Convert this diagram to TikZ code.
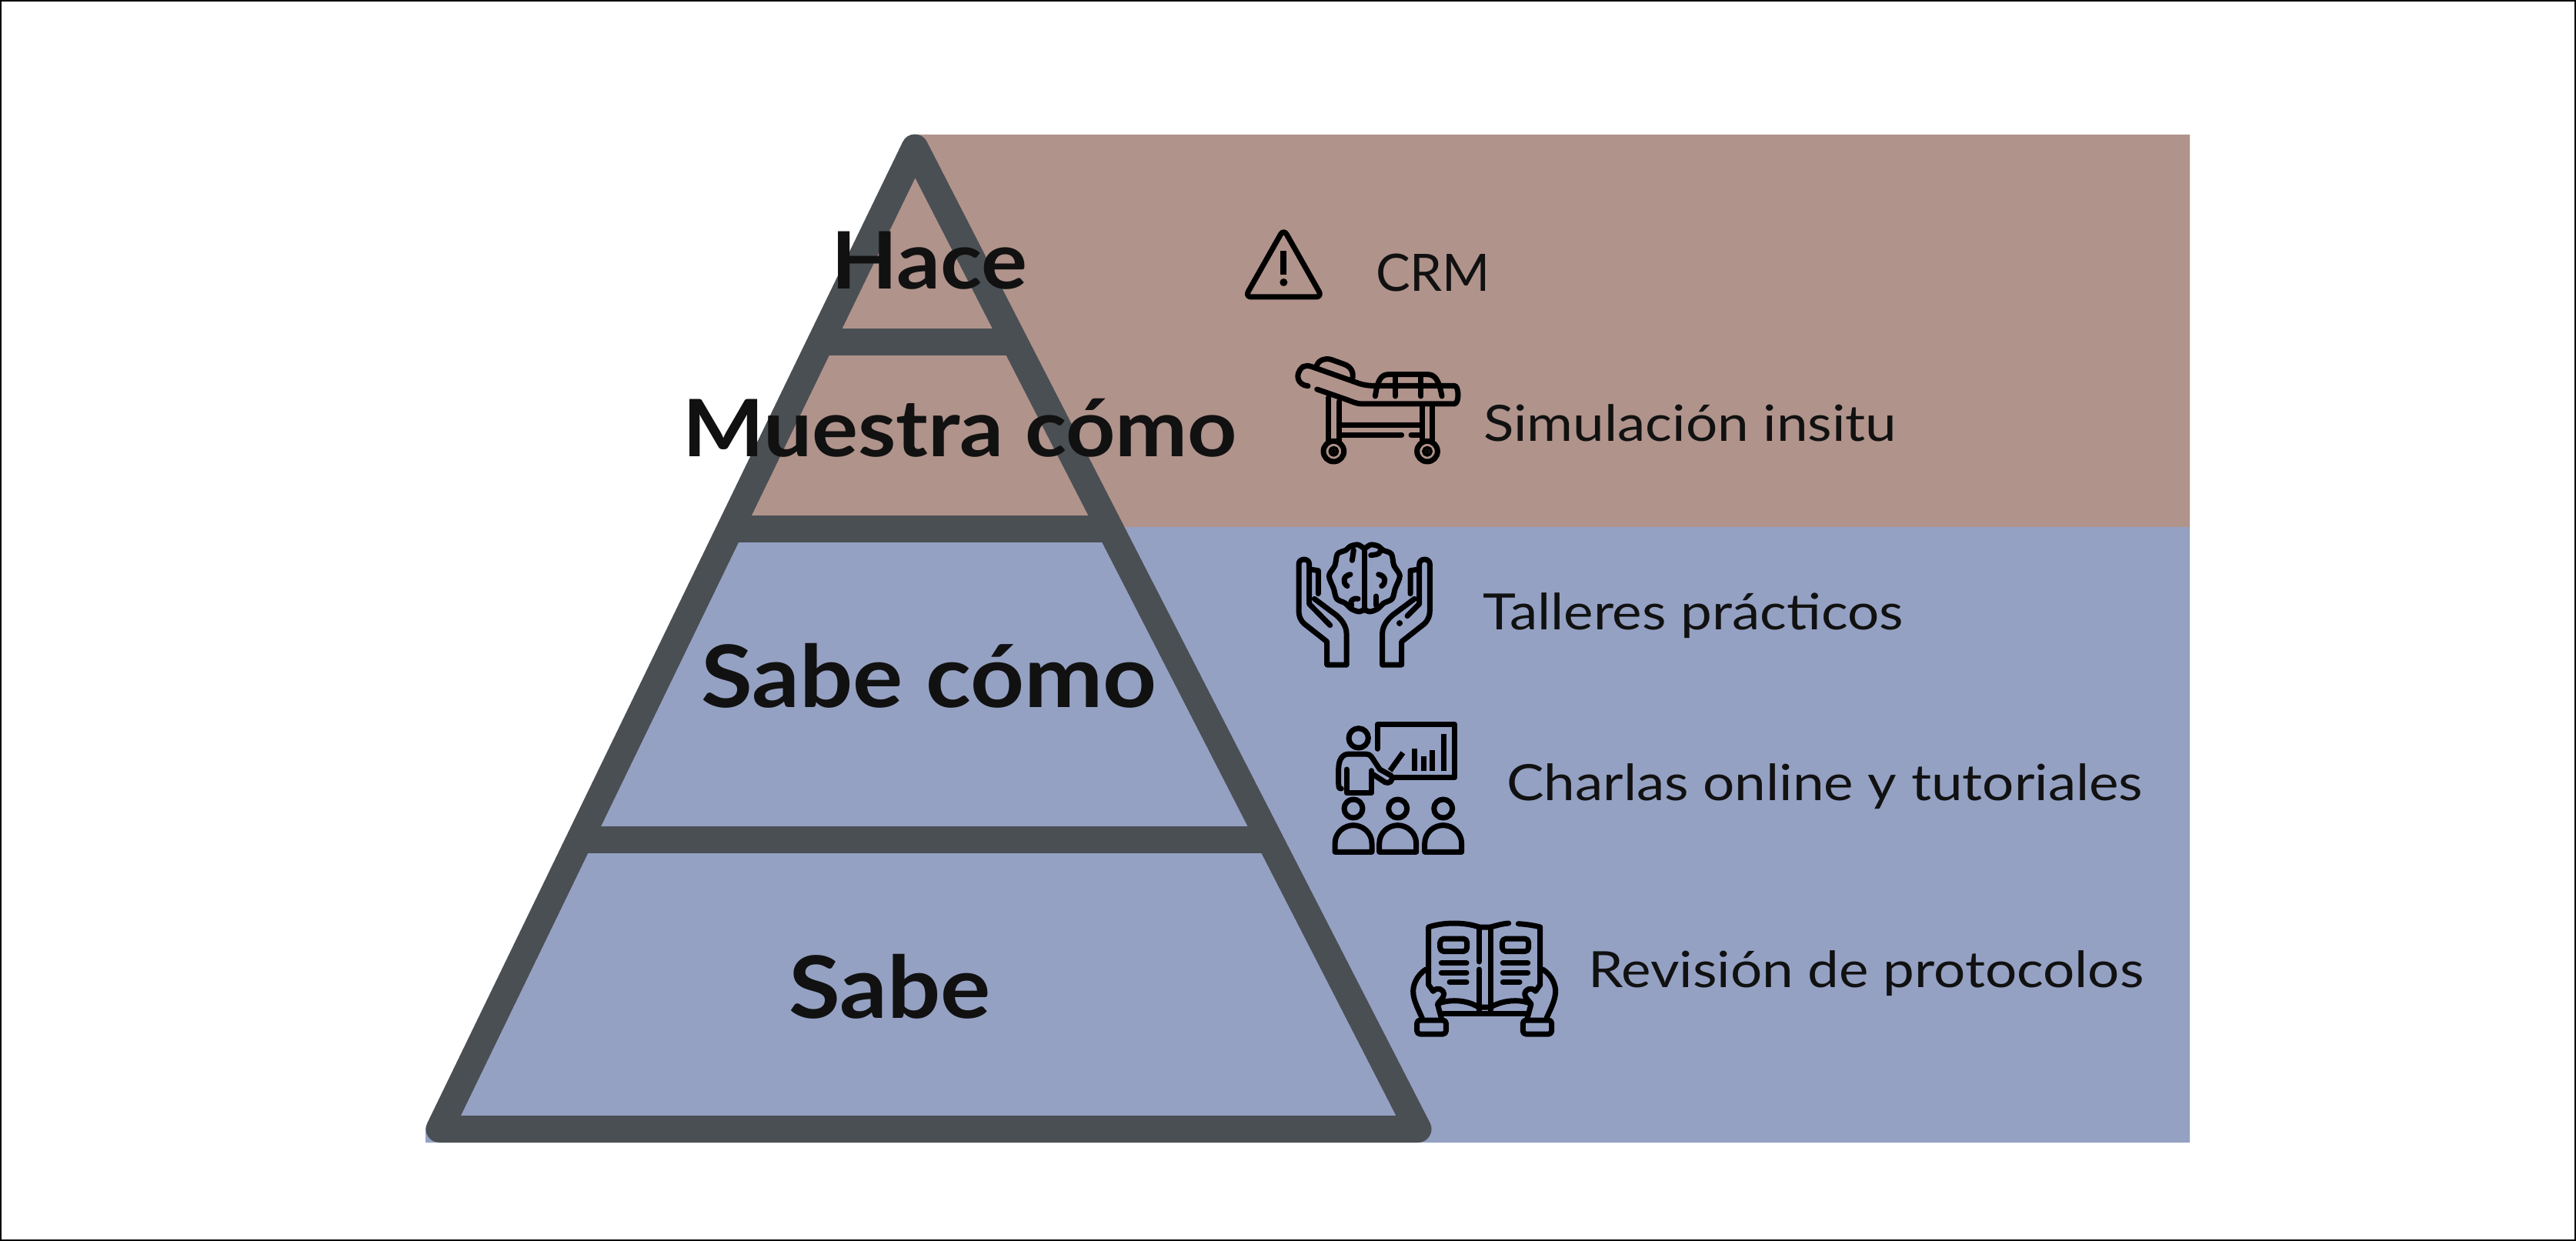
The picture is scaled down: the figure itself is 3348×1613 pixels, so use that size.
\documentclass[tikz,border=0pt]{standalone}
\usepackage{fontspec}
\setmainfont{Lato}
\newfontfamily\headfam[FakeStretch=1.09]{Lato}
\newfontfamily\labfam[FakeStretch=1.12]{Lato}
\definecolor{brownbg}{HTML}{B0938B}
\definecolor{bluebg}{HTML}{94A1C3}
\definecolor{pyr}{HTML}{4A4F54}
\definecolor{ink}{HTML}{111111}
\tikzset{
 head/.style={anchor=base west,inner sep=0pt,text=ink,font=\headfam\fontsize{103}{103}\selectfont\bfseries},
 headbig/.style={anchor=base west,inner sep=0pt,text=ink,font=\headfam\fontsize{112}{112}\selectfont\bfseries},
 lab/.style={anchor=base west,inner sep=0pt,text=ink,font=\labfam\fontsize{65}{65}\selectfont},
 labcaps/.style={anchor=base west,inner sep=0pt,text=ink,font=\fontsize{67}{67}\selectfont},
 icon/.style={x=0.33333pt,y=-0.33333pt,line width=7pt,draw=black,line cap=round,line join=round}
}
\begin{document}
\begin{tikzpicture}[x=1pt,y=-1pt]
\useasboundingbox (0,0) rectangle (3348,1613);
\fill[white] (0,0) rectangle (3348,1613);
% backgrounds
\fill[brownbg] (1189,175) -- (2846,175) -- (2846,686) -- (957,686) -- cycle;
\fill[bluebg] (957,685) -- (2846,685) -- (2846,1485) -- (553,1485) -- (553,1467) -- cycle;
% pyramid
\coordinate (apex) at (1189,192);
\coordinate (bl) at (571,1467.5);
\coordinate (br) at (1843,1467.5);
\draw[pyr,line width=35pt,line join=round] (apex) -- (bl) -- (br) -- cycle;
\foreach \yy/\nn in {445/a,687.5/b,1091/c}{
 \path (apex) -- (bl) coordinate[pos={(\yy-192)/1275.5}] (L\nn);
 \path (apex) -- (br) coordinate[pos={(\yy-192)/1275.5}] (R\nn);
 \draw[pyr,line width=35pt] (L\nn) -- (R\nn);
}
% pyramid labels
\node[head] (hace) at (1080,375) {Hace};
\node[head] (muestra) at (887,593) {Muestra cómo};
\node[headbig] (sabecomo) at (911,919) {Sabe cómo};
\node[headbig] (sabe) at (1025,1323) {Sabe};
% right labels
\node[labcaps] (crm) at (1788,378) {CRM};
\node[lab] (sim) at (1928,573) {Simulación insitu};
\node[lab] (tal) at (1927,818) {Talleres prácticos};
\node[lab] (cha) at (1958,1040) {Charlas online y tutoriales};
\node[lab] (rev) at (2064,1283) {Revisión de protocolos};
% warning + stretcher
\begin{scope}[shift={(1550,260)},icon]
 \draw[rounded corners=8pt] (355,113) -- (205,378) -- (505,378) -- cycle;
 \draw[line width=8pt,line cap=butt] (355,198) -- (355,292);
 \fill (355,321) circle (15);
 % stretcher
 \draw (450,725) .. controls (410,722) and (395,680) .. (430,650) .. controls (440,645) and (450,645) .. (465,650) -- (640,712) .. controls (650,716) and (670,723) .. (700,724) -- (1020,724) .. controls (1040,724) and (1040,795) .. (1020,795) -- (660,795) .. controls (640,795) and (620,785) .. (600,778) -- (485,738);
 \draw (482,655) .. controls (485,625) and (515,615) .. (540,622) -- (590,640) .. controls (620,650) and (630,675) .. (622,700);
 \draw (712,765) .. controls (722,700) and (735,680) .. (765,680) -- (915,680) .. controls (945,680) and (960,700) .. (972,765);
 \draw (790,685) -- (790,765) (890,685) -- (890,765);
 \draw (530,770) -- (530,945) (572,785) -- (572,945);
 \draw (895,800) -- (895,945) (935,800) -- (935,945);
 \draw (575,878) -- (895,878) (575,916) -- (815,916) (852,916) -- (895,916);
 \foreach \cx in {550,915}{
  \draw (\cx,980) circle (40);
  \draw[line width=4pt] (\cx,980) circle (15);
  \fill (\cx,980) circle (8);
 }
\end{scope}
% hands + brain
\begin{scope}[shift={(1650,680)},icon]
 \draw (300,552) -- (224,552) -- (224,462) -- (135,392) .. controls (118,375) and (114,360) .. (114,340) -- (114,160) .. controls (114,135) and (155,135) .. (155,160) -- (155,315) -- (236,398);
 \draw (158,180) -- (190,185) -- (190,275);
 \draw (175,295) -- (262,360) .. controls (290,385) and (300,410) .. (300,430) -- (300,552);
 \draw (440,552) -- (515,552) -- (515,462) -- (604,392) .. controls (620,375) and (625,360) .. (625,340) -- (625,160) .. controls (625,135) and (584,135) .. (584,160) -- (584,315) -- (537,362);
 \draw (581,180) -- (549,185) -- (549,275);
 \draw (565,295) -- (478,360) .. controls (450,385) and (440,410) .. (440,430) -- (440,552);
 \fill (507,390) circle (12);
 \draw (370,100) -- (370,340);
 \draw plot[smooth] coordinates {(370,100) (345,84) (315,90) (298,105) (265,120) (255,165) (232,205) (250,255) (262,295) (295,312) (320,335) (350,345) (370,335)};
 \draw plot[smooth] coordinates {(370,100) (395,84) (425,90) (442,105) (475,120) (485,165) (508,205) (490,255) (478,295) (445,312) (420,335) (390,345) (370,335)};
 \draw (328,105) -- (322,145);
 \draw (395,125) .. controls (410,122) and (425,125) .. (432,110);
 \draw (315,200) .. controls (285,205) and (285,235) .. (303,245);
 \draw (425,200) .. controls (455,205) and (455,235) .. (437,245);
 \draw (345,295) .. controls (325,290) and (310,305) .. (320,320);
 \draw (415,285) -- (415,320);
\end{scope}
% presentation
\begin{scope}[shift={(1700,920)},icon]
 \draw (270,160) -- (270,65) -- (572,65) -- (572,272) -- (335,272);
 \draw[line cap=butt] (415,160) -- (415,245) (450,190) -- (450,245) (483,165) -- (483,245) (528,102) -- (528,245);
 \draw[line cap=butt] (370,175) -- (320,245);
 \draw (197,118) circle (38);
 \draw (150,240) -- (150,332) -- (247,332) -- (247,245);
 \draw (130,315) .. controls (120,315) and (119,310) .. (119,290) -- (119,240) .. controls (119,200) and (135,180) .. (160,180) -- (225,180) .. controls (245,180) and (250,195) .. (260,210) -- (280,240) -- (325,265) .. controls (335,285) and (315,298) .. (300,290) -- (247,255);
 \foreach \cx in {177,350,527}{
  \draw ({\cx},393) circle (36);
  \draw ({\cx-72},562) -- ({\cx-72},530) .. controls ({\cx-72},485) and ({\cx-35},458) .. ({\cx},458) .. controls ({\cx+35},458) and ({\cx+72},485) .. ({\cx+72},530) -- ({\cx+72},562) -- cycle;
 }
\end{scope}
% book
\begin{scope}[shift={(1820,1180)},icon]
 \draw (110,300) -- (110,75) .. controls (170,55) and (250,55) .. (307,75) -- (352,75) .. controls (370,70) and (395,62) .. (422,60);
 \draw (460,62) .. controls (490,64) and (520,68) .. (545,75) -- (545,300);
 \draw (307,75) -- (307,210) (307,240) -- (307,400) (352,75) -- (352,400);
 \draw[rounded corners=5pt] (155,120) rectangle (260,170);
 \draw[rounded corners=5pt] (397,120) rectangle (500,170);
 \draw (160,215) -- (258,215) (160,253) -- (258,253) (192,290) -- (258,290);
 \draw (400,215) -- (497,215) (400,253) -- (497,253) (400,290) -- (465,290);
 \draw (150,372) .. controls (200,355) and (260,360) .. (305,387) -- (352,387) .. controls (400,360) and (460,355) .. (505,372);
 \draw (160,412) -- (498,412);
 \draw (110,300) -- (128,325) .. controls (145,305) and (170,320) .. (170,335) .. controls (170,350) and (155,360) .. (145,375) -- (160,430);
 \draw (545,300) -- (527,325) .. controls (510,305) and (485,320) .. (485,335) .. controls (485,350) and (500,360) .. (510,375) -- (495,430);
 \draw (100,240) .. controls (60,265) and (50,305) .. (50,325) .. controls (50,360) and (70,395) .. (85,430);
 \draw (555,240) .. controls (595,265) and (605,305) .. (605,325) .. controls (605,360) and (585,395) .. (570,430);
 \draw[rounded corners=4pt] (65,438) rectangle (178,492);
 \draw[rounded corners=4pt] (478,438) rectangle (590,492);
\end{scope}
% frame
\draw[black,line width=4pt] (0,0) rectangle (3348,1613);
\end{tikzpicture}
\end{document}
